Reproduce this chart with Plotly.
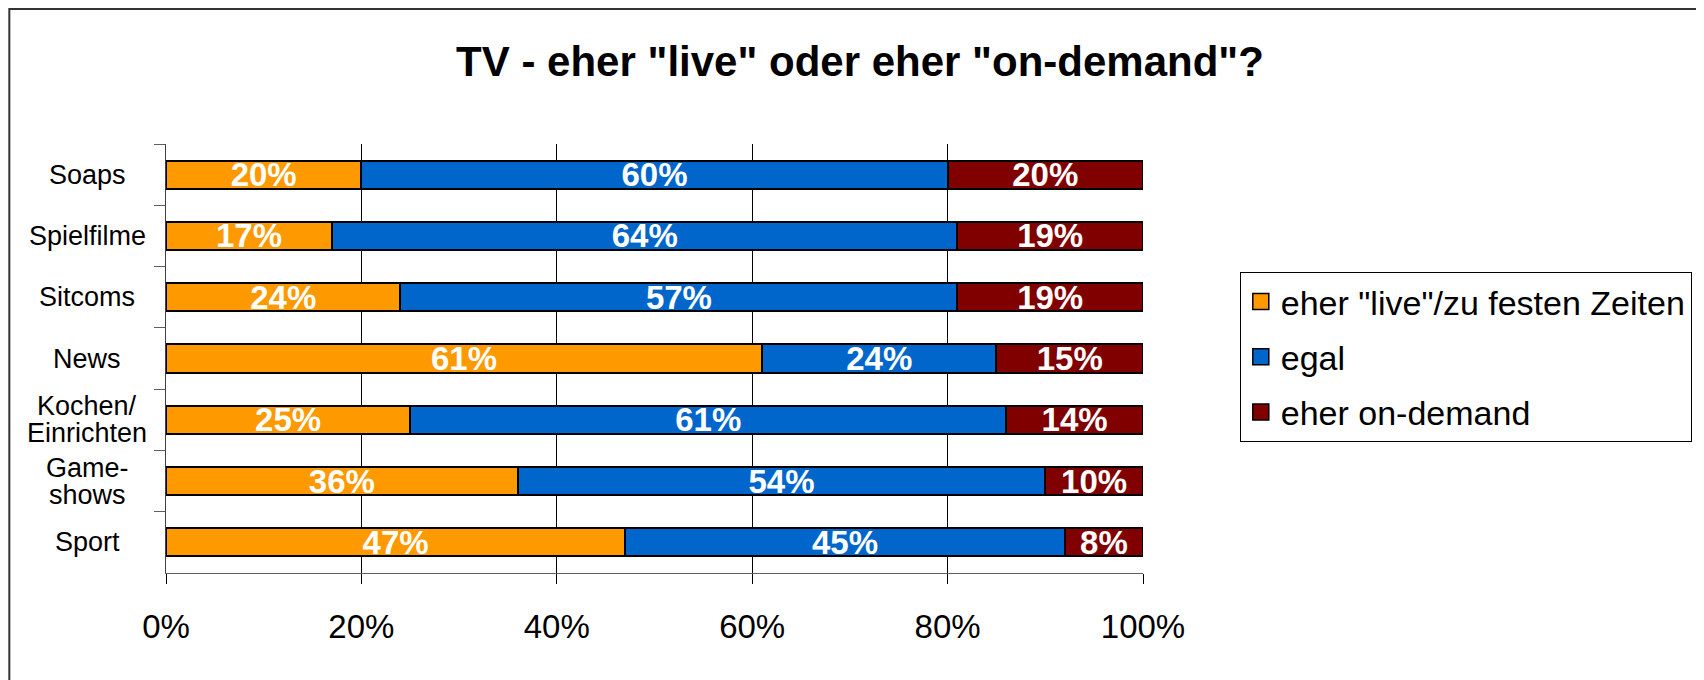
import plotly.graph_objects as go

categories = ["Soaps", "Spielfilme", "Sitcoms", "News", "Kochen/<br>Einrichten", "Game-<br>shows", "Sport"]
live = [20, 17, 24, 61, 25, 36, 47]
egal = [60, 64, 57, 24, 61, 54, 45]
demand = [20, 19, 19, 15, 14, 10, 8]
series_names = ['eher "live"/zu festen Zeiten', "egal", "eher on-demand"]
colors = ["#FF9900", "#0066CC", "#800000"]
x_ticks = [0, 20, 40, 60, 80, 100]
x_labels = ["0%", "20%", "40%", "60%", "80%", "100%"]

FONT = "Liberation Sans, Arial, sans-serif"

fig = go.Figure()
for i, (name, vals, col) in enumerate(zip(series_names, [live, egal, demand], colors)):
    fig.add_trace(go.Bar(
        y=categories, x=vals, name=name, orientation="h",
        marker=dict(color=col, line=dict(color="black", width=2)),
        text=[f"{v}%" for v in vals], textposition="inside",
        insidetextanchor="middle", constraintext="none",
        textfont=dict(color="white", size=33, family=FONT, weight="bold"),
        legendgroup=f"g{i}", showlegend=False, hoverinfo="x+y",
    ))
    # legend entry with a larger square symbol
    fig.add_trace(go.Scatter(
        x=[None], y=[None], mode="markers", name=name, legendgroup=f"g{i}",
        marker=dict(symbol="square", size=16, color=col, line=dict(color="black", width=1.5)),
        showlegend=True, hoverinfo="skip",
    ))

# page is offset by 8px body margin
W, H = 1696, 672
L, T = 158, 136
R, B = W - 1137, H - 565
pw, ph = W - L - R, H - T - B

# category labels as centred annotations (tight line spacing)
annotations = []
line_gap = 27
for c in categories:
    lines = c.split("<br>")
    n = len(lines)
    for k, txt in enumerate(lines):
        annotations.append(dict(
            text=txt, xref="paper", yref="y", x=(79 - L) / pw, y=c,
            xanchor="center", yanchor="middle", showarrow=False,
            yshift=((n - 1) / 2 - k) * line_gap,
            font=dict(size=27, family=FONT, color="black"),
        ))

fig.update_layout(
    width=W, height=H, barmode="stack", bargap=0.54,
    margin=dict(l=L, r=R, t=T, b=B, pad=0),
    paper_bgcolor="white", plot_bgcolor="white",
    font=dict(family=FONT, color="black"),
    title=dict(text='TV - eher "live" oder eher "on-demand"?', xref="container", x=852 / W,
               xanchor="center", y=1 - 53 / H, yanchor="middle",
               font=dict(size=42, family=FONT, color="black", weight="bold")),
    xaxis=dict(range=[0, 100], tickvals=x_ticks, ticktext=x_labels,
               showgrid=True, gridcolor="black", gridwidth=1,
               ticks="outside", ticklen=10, tickcolor="black", tickwidth=1,
               showline=True, linecolor="#606060", linewidth=1,
               tickfont=dict(size=33, family=FONT), ticklabelstandoff=14,
               zeroline=False, fixedrange=True),
    yaxis=dict(autorange="reversed", tickson="boundaries", ticks="outside", ticklen=11,
               tickcolor="#606060", showline=True, linecolor="#404040", linewidth=1,
               showticklabels=False, showgrid=False, fixedrange=True),
    legend=dict(x=(1234 - L) / pw, xanchor="left", y=(565 - 264) / ph, yanchor="top",
                bordercolor="black", borderwidth=1, bgcolor="white",
                font=dict(size=34, family=FONT), traceorder="grouped", tracegroupgap=8),
    annotations=annotations,
    shapes=[dict(type="rect", xref="paper", yref="paper",
                 x0=(1 - L) / pw, x1=(W + 20 - L) / pw, y0=(565 - H - 20) / ph, y1=(565 - 1) / ph,
                 line=dict(color="#333333", width=2), fillcolor="rgba(0,0,0,0)", layer="below")],
    showlegend=True,
)

fig.write_html("out.html")
